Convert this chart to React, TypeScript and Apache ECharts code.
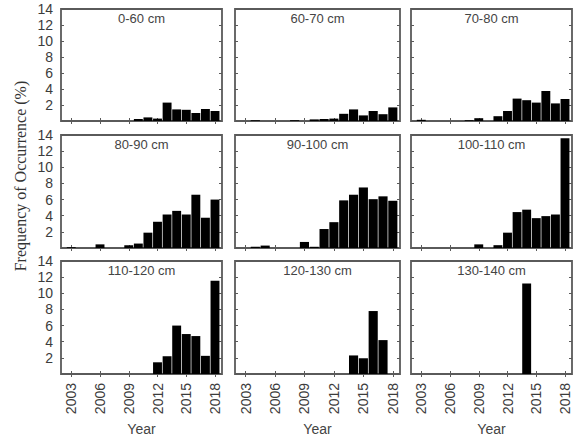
import React, { useEffect, useRef } from "react";
import * as echarts from "echarts";

const years = [2003, 2004, 2005, 2006, 2007, 2008, 2009, 2010, 2011, 2012, 2013, 2014, 2015, 2016, 2017, 2018];
const yearTicks = [2003, 2006, 2009, 2012, 2015, 2018];
const panelTitles = ["0-60 cm", "60-70 cm", "70-80 cm", "80-90 cm", "90-100 cm", "100-110 cm", "110-120 cm", "120-130 cm", "130-140 cm"];

const cm0_60 = [0, 0, 0, 0, 0, 0, 0, 0.25, 0.45, 0.3, 2.3, 1.45, 1.4, 1.0, 1.5, 1.25];
const cm60_70 = [0, 0.1, 0, 0, 0, 0.1, 0, 0.2, 0.25, 0.3, 0.9, 1.45, 0.7, 1.25, 0.85, 1.7];
const cm70_80 = [0.15, 0, 0, 0, 0, 0.1, 0.35, 0, 0.6, 1.25, 2.8, 2.6, 2.3, 3.75, 2.2, 2.75];
const cm80_90 = [0.1, 0, 0, 0.45, 0, 0, 0.35, 0.55, 1.9, 3.25, 4.15, 4.6, 4.15, 6.6, 3.75, 6.0];
const cm90_100 = [0, 0.15, 0.3, 0, 0, 0, 0.75, 0.15, 2.35, 3.2, 5.9, 6.6, 7.5, 6.05, 6.4, 5.85];
const cm100_110 = [0, 0, 0, 0, 0, 0, 0.45, 0, 0.35, 1.9, 4.45, 4.75, 3.7, 3.95, 4.15, 13.6];
const cm110_120 = [0, 0, 0, 0, 0, 0, 0, 0, 0, 1.45, 2.2, 6.0, 4.95, 4.7, 2.25, 11.55];
const cm120_130 = [0, 0, 0, 0, 0, 0, 0, 0, 0, 0, 0, 2.3, 1.95, 7.8, 4.2, 0];
const cm130_140 = [0, 0, 0, 0, 0, 0, 0, 0, 0, 0, 0, 11.2, 0, 0, 0, 0];

const panelData = [cm0_60, cm60_70, cm70_80, cm80_90, cm90_100, cm100_110, cm110_120, cm120_130, cm130_140];

const colLeft = [61, 235, 411];
const colWidth = [161, 165, 161];
const rowTop = [9, 135, 261];
const rowHeight = [112, 113, 113];

const X_MIN = 2001.93;
const X_MAX = 2018.73;
const FRAME = "#5a5a5a";
const TEXT = "#3c3c3c";
const SANS = "'Liberation Sans', Arial, sans-serif";

export default function App() {
  const ref = useRef<HTMLDivElement>(null);

  useEffect(() => {
    if (!ref.current) return;
    const chart = echarts.init(ref.current, undefined, { renderer: "svg" });

    const grids: any[] = [];
    const xAxes: any[] = [];
    const yAxes: any[] = [];
    const series: any[] = [];
    const graphics: any[] = [];

    panelData.forEach((vals, p) => {
      const r = Math.floor(p / 3);
      const c = p % 3;
      grids.push({
        left: colLeft[c],
        top: rowTop[r],
        width: colWidth[c],
        height: rowHeight[r],
        show: true,
        borderColor: FRAME,
        borderWidth: 1.8,
        backgroundColor: "#fff",
        containLabel: false,
      });
      const tickStyle = { show: true, inside: true, length: 3, lineStyle: { color: FRAME, width: 1 } };
      xAxes.push({
        type: "value",
        gridIndex: p,
        position: "bottom",
        min: X_MIN,
        max: X_MAX,
        axisLine: { show: false },
        splitLine: { show: false },
        axisTick: { ...tickStyle, customValues: yearTicks },
        axisLabel: {
          show: r === 2,
          customValues: yearTicks,
          rotate: 90,
          margin: 9,
          fontSize: 14,
          fontFamily: SANS,
          color: TEXT,
          formatter: (v: number) => String(Math.round(v)),
        },
      });
      xAxes.push({
        type: "value",
        gridIndex: p,
        position: "top",
        min: X_MIN,
        max: X_MAX,
        axisLine: { show: false },
        splitLine: { show: false },
        axisTick: { ...tickStyle, customValues: yearTicks },
        axisLabel: { show: false, customValues: yearTicks },
      });
      yAxes.push({
        type: "value",
        gridIndex: p,
        position: "left",
        min: 0,
        max: 14,
        interval: 2,
        axisLine: { show: false },
        splitLine: { show: false },
        axisTick: tickStyle,
        axisLabel: {
          show: c === 0,
          margin: 8,
          fontSize: 14,
          fontFamily: SANS,
          color: TEXT,
          formatter: (v: number) => (v === 0 ? "" : String(v)),
        },
      });
      yAxes.push({
        type: "value",
        gridIndex: p,
        position: "right",
        min: 0,
        max: 14,
        interval: 2,
        axisLine: { show: false },
        splitLine: { show: false },
        axisTick: tickStyle,
        axisLabel: { show: false },
      });
      series.push({
        type: "bar",
        xAxisIndex: 2 * p,
        yAxisIndex: 2 * p,
        data: years.map((y, i) => [y, vals[i]]),
        barCategoryGap: "7%",
        itemStyle: { color: "#000" },
        silent: true,
      });
      graphics.push({
        type: "text",
        x: colLeft[c] + colWidth[c] / 2,
        y: rowTop[r] + 9,
        style: {
          text: panelTitles[p],
          textAlign: "center",
          textVerticalAlign: "middle",
          fontSize: 13,
          fontFamily: SANS,
          fill: "#444",
        },
      });
    });

    for (let c = 0; c < 3; c++) {
      graphics.push({
        type: "text",
        x: colLeft[c] + colWidth[c] / 2,
        y: 429,
        style: {
          text: "Year",
          textAlign: "center",
          textVerticalAlign: "middle",
          fontSize: 14,
          fontFamily: SANS,
          fill: "#444",
        },
      });
    }

    graphics.push({
      type: "text",
      x: 20,
      y: 176,
      rotation: Math.PI / 2,
      style: {
        text: "Frequency of Occurrence (%)",
        textAlign: "center",
        textVerticalAlign: "middle",
        fontSize: 16,
        fontFamily: "'Liberation Serif', 'Times New Roman', serif",
        fill: "#333",
      },
    });

    chart.setOption({
      animation: false,
      backgroundColor: "#fff",
      grid: grids,
      xAxis: xAxes,
      yAxis: yAxes,
      series,
      graphic: graphics,
    });

    return () => chart.dispose();
  }, []);

  return (
    <div
      ref={ref}
      style={{ position: "absolute", left: 0, top: 0, width: 574, height: 437 }}
    />
  );
}
